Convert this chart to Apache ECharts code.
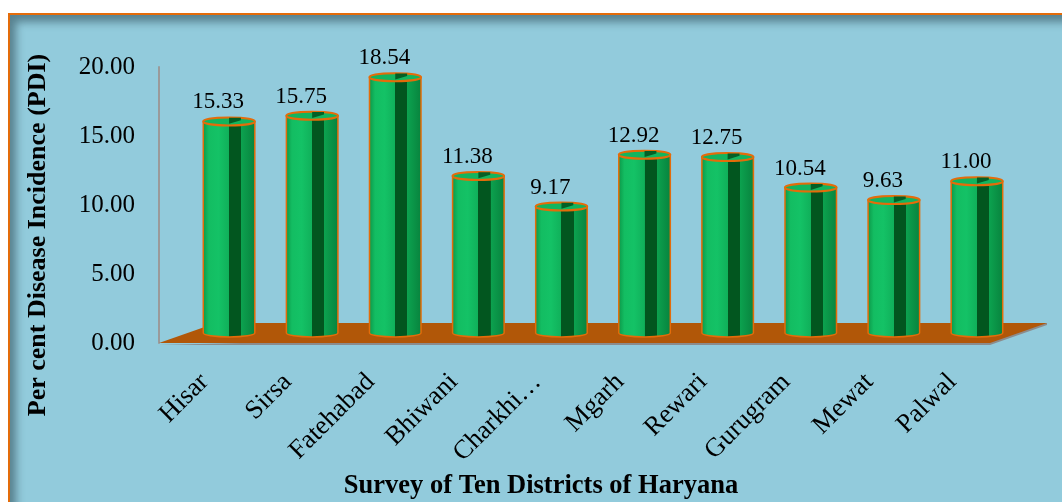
<!DOCTYPE html>
<html>
<head>
<meta charset="utf-8">
<script src="https://cdn.jsdelivr.net/npm/echarts@6/dist/echarts.min.js"></script>
<style>
  body { margin: 0; background: #fff; }
  .frame {
    position: absolute; left: 8px; top: 13px; width: 1100px; height: 600px;
    background: #92cbdc; border: 2px solid #e46c0a;
    box-shadow: inset 8px 9px 8px -2px rgba(40, 70, 80, 0.55);
  }
  #chart { position: absolute; left: 0; top: 0; width: 1062px; height: 502px; }
</style>
</head>
<body>
<div class="frame"></div>
<div id="chart"></div>
<script>
var districts = ['Hisar', 'Sirsa', 'Fatehabad', 'Bhiwani', 'Charkhi…', 'Mgarh', 'Rewari', 'Gurugram', 'Mewat', 'Palwal']
var pdi = [15.33, 15.75, 18.54, 11.38, 9.17, 12.92, 12.75, 10.54, 9.63, 11.00]
var yTicks = [0, 5, 10, 15, 20]

var serif = 'Liberation Serif, Times New Roman, serif'
// depth of the 3D floor (px)
var DX = 57
var DY = -20

var chart = echarts.init(document.getElementById('chart'))

function renderFloor (params, api) {
  var cs = params.coordSys
  var x0 = cs.x
  var x1 = cs.x + cs.width
  var y0 = cs.y + cs.height
  return {
    type: 'group',
    children: [
      {
        type: 'polygon',
        shape: { points: [[x0, y0 + 2], [x1, y0 + 2], [x1 + DX, y0 + DY + 2], [x1 + DX, y0 + DY]] },
        style: { fill: '#8c8c8c' }
      },
      {
        type: 'polygon',
        shape: { points: [[x0, y0], [x1, y0], [x1 + DX, y0 + DY], [x0 + DX, y0 + DY]] },
        style: { fill: '#b15708' }
      }
    ]
  }
}

function renderCylinder (params, api) {
  var i = api.value(0)
  var v = api.value(1)
  var p = api.coord([i, v])
  var b = api.coord([i, 0])
  var w = api.size([1, 0])[0] * 0.62
  var r = w / 2
  var ry = 4
  var cx = p[0] + DX / 2
  var top = p[1] + DY / 2
  var base = b[1] + DY / 2
  var s = w * 0.23

  var body = 'M' + (cx - r) + ' ' + top + ' L' + (cx - r) + ' ' + base +
    ' A' + r + ' ' + ry + ' 0 0 0 ' + (cx + r) + ' ' + base +
    ' L' + (cx + r) + ' ' + top + ' Z'
  var cap = 'M' + (cx - r) + ' ' + top +
    ' A' + r + ' ' + ry + ' 0 1 0 ' + (cx + r) + ' ' + top +
    ' A' + r + ' ' + ry + ' 0 1 0 ' + (cx - r) + ' ' + top + ' Z'

  var grad = new echarts.graphic.LinearGradient(0, 0, 1, 0, [
    { offset: 0, color: '#0b9446' },
    { offset: 0.12, color: '#13bd62' },
    { offset: 0.3, color: '#14c266' },
    { offset: 0.499, color: '#10b05a' },
    { offset: 0.5, color: '#02561f' },
    { offset: 0.729, color: '#02561f' },
    { offset: 0.73, color: '#0ca24f' },
    { offset: 1, color: '#08823d' }
  ])

  return {
    type: 'group',
    children: [
      {
        type: 'path',
        shape: { pathData: body },
        style: { fill: grad, stroke: '#e46c0a', lineWidth: 1.5 }
      },
      {
        type: 'path',
        shape: { pathData: cap },
        style: { fill: '#12b55e', stroke: '#e46c0a', lineWidth: 2 }
      },
      {
        type: 'polygon',
        shape: { points: [[cx, top + ry * 0.6], [cx, top - ry * 0.9], [cx + s, top - ry * 0.9], [cx + s, top - ry * 0.3]] },
        style: { fill: '#045f25' }
      },
      {
        type: 'text',
        x: cx - 11,
        y: top - 19,
        style: {
          text: v.toFixed(2),
          align: 'center',
          verticalAlign: 'middle',
          fontSize: 23,
          fontFamily: serif,
          fill: '#000'
        }
      },
      {
        type: 'text',
        x: b[0] + 4,
        y: b[1] + 35,
        rotation: Math.PI / 4,
        style: {
          text: districts[i],
          align: 'right',
          verticalAlign: 'middle',
          fontSize: 26.5,
          fontFamily: serif,
          fill: '#000'
        }
      }
    ]
  }
}

var option = {
  animation: false,
  grid: {
    left: 159,
    right: 72,
    top: 67,
    bottom: 159
  },
  xAxis: {
    type: 'category',
    data: districts,
    axisLine: { show: false },
    axisTick: { show: false },
    axisLabel: { show: false }
  },
  yAxis: {
    type: 'value',
    min: yTicks[0],
    max: yTicks[yTicks.length - 1],
    interval: 5,
    axisLine: { show: true, lineStyle: { color: '#9a9a9a', width: 2 } },
    axisTick: { show: false },
    splitLine: { show: false },
    axisLabel: {
      margin: 24,
      fontSize: 25,
      fontFamily: serif,
      color: '#000',
      formatter: function (val) { return val.toFixed(2) }
    }
  },
  graphic: [
    {
      type: 'text',
      x: 38,
      y: 235,
      rotation: Math.PI / 2,
      style: {
        text: 'Per cent Disease Incidence (PDI)',
        align: 'center',
        verticalAlign: 'middle',
        fontFamily: serif,
        fontWeight: 'bold',
        fontSize: 26,
        fill: '#000'
      }
    },
    {
      type: 'text',
      x: 541,
      y: 486,
      style: {
        text: 'Survey of Ten Districts of Haryana',
        align: 'center',
        verticalAlign: 'middle',
        fontFamily: serif,
        fontWeight: 'bold',
        fontSize: 26.5,
        fill: '#000'
      }
    }
  ],
  series: [
    {
      type: 'custom',
      name: 'floor',
      renderItem: renderFloor,
      data: [[0, 0]],
      z: 1,
      silent: true
    },
    {
      type: 'custom',
      name: 'PDI',
      renderItem: renderCylinder,
      encode: { x: 0, y: 1 },
      data: pdi.map(function (v, i) { return [i, v] }),
      z: 2
    }
  ]
}

chart.setOption(option)
</script>
</body>
</html>
